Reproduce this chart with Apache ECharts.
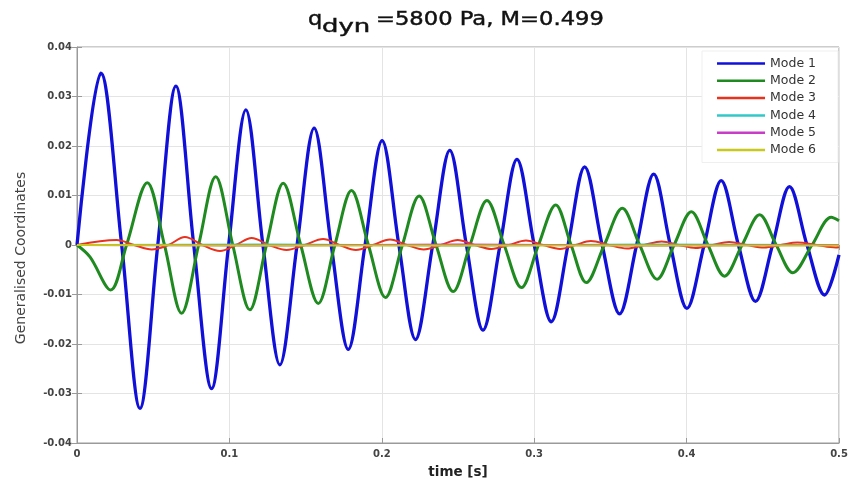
<!DOCTYPE html>
<html>
<head>
<meta charset="utf-8">
<script src="https://cdn.jsdelivr.net/npm/echarts@6/dist/echarts.min.js"></script>
<style>
html,body{margin:0;padding:0;background:#fff;}
#chart{width:851px;height:484px;}
</style>
</head>
<body>
<div id="chart"></div>
<script>
// ---- Data ----
const seriesNames = ['Mode 1', 'Mode 2', 'Mode 3', 'Mode 4', 'Mode 5', 'Mode 6'];
const xTickLabels = ['0', '0.1', '0.2', '0.3', '0.4', '0.5'];
const yTickLabels = ['-0.04', '-0.03', '-0.02', '-0.01', '0', '0.01', '0.02', '0.03', '0.04'];
const titleMain = 'q';
const titleSub = 'dyn';
const titleRest = '=5800 Pa, M=0.499';

const mode1T = [0, 0.0157, 0.0293, 0.0413, 0.053, 0.0649, 0.0766, 0.0883, 0.0995, 0.1108, 0.122, 0.1331, 0.1444, 0.1556, 0.1668, 0.178, 0.189, 0.2002, 0.2112, 0.2221, 0.2334, 0.2446, 0.2555, 0.2664, 0.2776, 0.2887, 0.3, 0.3112, 0.3222, 0.3331, 0.3446, 0.356, 0.3672, 0.3784, 0.3893, 0.4002, 0.4115, 0.4227, 0.434, 0.4452, 0.4564, 0.4675, 0.479, 0.4905, 0.5];
const mode1V = [0, 0.0347, 0, -0.033, 0, 0.0321, 0, -0.029, 0, 0.0273, 0, -0.0242, 0, 0.0236, 0, -0.0211, 0, 0.0211, 0, -0.0191, 0, 0.0191, 0, -0.0172, 0, 0.0173, 0, -0.0155, 0, 0.0158, 0, -0.0139, 0, 0.0143, 0, -0.0128, 0, 0.013, 0, -0.0114, 0, 0.0118, 0, -0.0101, -0.002];

const mode2T = [0, 0.0085, 0.0221, 0.0325, 0.0461, 0.0574, 0.0686, 0.0798, 0.091, 0.1022, 0.1134, 0.1243, 0.1353, 0.1468, 0.1583, 0.1692, 0.1801, 0.1912, 0.2024, 0.2135, 0.2245, 0.2356, 0.2468, 0.2579, 0.269, 0.2803, 0.2916, 0.3028, 0.3141, 0.3242, 0.3342, 0.346, 0.3578, 0.3692, 0.3806, 0.3918, 0.4031, 0.414, 0.4249, 0.4364, 0.4479, 0.4588, 0.4697, 0.4823, 0.4949, 0.5];
const mode2V = [0, -0.0024, -0.0091, 0, 0.0126, 0, -0.0138, 0, 0.0138, 0, -0.0131, 0, 0.0125, 0, -0.0118, 0, 0.011, 0, -0.0106, 0, 0.0099, 0, -0.0094, 0, 0.009, 0, -0.0086, 0, 0.0081, 0, -0.0076, 0, 0.0074, 0, -0.0069, 0, 0.0067, 0, -0.0063, 0, 0.0061, 0, -0.0056, 0, 0.0056, 0.0049];

const mode3T = [0, 0.026, 0.0375, 0.049, 0.06, 0.0708, 0.0823, 0.0938, 0.1042, 0.1146, 0.126, 0.1375, 0.1495, 0.1615, 0.1722, 0.183, 0.1942, 0.2054, 0.2165, 0.2275, 0.2387, 0.2498, 0.2609, 0.272, 0.2833, 0.2946, 0.3058, 0.317, 0.3271, 0.3372, 0.349, 0.3608, 0.3722, 0.3836, 0.3948, 0.406, 0.417, 0.4279, 0.4394, 0.4509, 0.4618, 0.4727, 0.4854, 0.498, 0.5];
const mode3V = [0, 0.001, 0, -0.0009, 0, 0.0016, 0, -0.0012, 0, 0.0014, 0, -0.001, 0, 0.0012, 0, -0.001, 0, 0.0011, 0, -0.0009, 0, 0.001, 0, -0.0008, 0, 0.0009, 0, -0.0008, 0, 0.0008, 0, -0.0007, 0, 0.0007, 0, -0.0006, 0, 0.0006, 0, -0.0005, 0, 0.0005, 0, -0.0005, -0.0004];

const mode4T = [0, 0.125, 0.25, 0.375, 0.5];
const mode4V = [0, 0.0001, -0.0001, 0.0001, 0];

const mode5T = [0, 0.125, 0.25, 0.375, 0.5];
const mode5V = [0, -0.0001, 0.0001, -0.0001, 0];

const mode6T = [0, 0.1, 0.2, 0.3, 0.4, 0.5];
const mode6V = [0, -0.0001, -0.0001, -0.0001, -0.0001, -0.0001];

// ---- Build chart ----
const zip = (t, v) => t.map((x, i) => [x, v[i]]);
const allT = [mode1T, mode2T, mode3T, mode4T, mode5T, mode6T];
const allV = [mode1V, mode2V, mode3V, mode4V, mode5V, mode6V];
const colors = ['#1010d8', '#1f8a1f', '#e8321e', '#30c8c8', '#c83cc8', '#c8c81e'];
const widths = [3.3, 3, 2, 2, 2, 2];

const FONT = 'DejaVu Sans, Liberation Sans, Arial, sans-serif';
const fmtX = v => { const i = Math.round(v / 0.1); return xTickLabels[i] !== undefined ? xTickLabels[i] : ''; };
const fmtY = v => { const i = Math.round(v / 0.01) + 4; return yTickLabels[i] !== undefined ? yTickLabels[i] : ''; };

const titleStyle = (txt, size) => ({
  text: txt, fill: '#111', font: 'normal ' + size + 'px ' + FONT,
  fontFamily: FONT, fontSize: size,
  align: 'left', verticalAlign: 'middle',
  stroke: '#111', lineWidth: 0.45
});

const chart = echarts.init(document.getElementById('chart'), null, {renderer: 'canvas'});
chart.setOption({
  animation: false,
  backgroundColor: '#ffffff',
  color: colors,
  graphic: [
    {type: 'text', x: 308, y: 20, scaleX: 1.15, z: 100, style: titleStyle(titleMain, 19.5)},
    {type: 'text', x: 322, y: 27, scaleX: 1.48, z: 100, style: titleStyle(titleSub, 17.5)},
    {type: 'text', x: 376, y: 20, scaleX: 1.16, z: 100, style: titleStyle(titleRest, 19.5)}
  ],
  grid: {
    left: 77, right: 12, top: 47, bottom: 41,
    show: true, borderColor: '#9a9a9a', borderWidth: 1, backgroundColor: '#fff',
    containLabel: false
  },
  legend: {
    orient: 'vertical',
    right: 13,
    top: 51,
    data: seriesNames,
    icon: 'rect',
    itemWidth: 48,
    itemHeight: 2.5,
    itemGap: 4.3,
    padding: [6, 22, 6, 15],
    backgroundColor: '#ffffff',
    borderColor: '#efefef',
    borderWidth: 1,
    selectedMode: false,
    textStyle: {fontFamily: FONT, fontSize: 12.5, color: '#333', lineHeight: 12}
  },
  xAxis: [{
    type: 'value', min: 0, max: 0.5, interval: 0.1,
    name: 'time [s]', nameLocation: 'middle', nameGap: 22,
    nameTextStyle: {fontFamily: FONT, fontSize: 13.5, color: '#222', fontWeight: 'bold'},
    axisLine: {show: true, onZero: false, lineStyle: {color: '#9a9a9a'}},
    axisTick: {show: true, inside: true, length: 5, lineStyle: {color: '#9a9a9a'}},
    axisLabel: {formatter: fmtX, fontFamily: FONT, fontSize: 10, fontWeight: 'bold', color: '#444', margin: 6},
    splitLine: {show: true, lineStyle: {color: '#e4e4e4', width: 1}}
  }, {
    type: 'value', min: 0, max: 0.5, interval: 0.1, position: 'top',
    axisLine: {show: false},
    axisTick: {show: true, inside: true, length: 5, lineStyle: {color: '#9a9a9a'}},
    axisLabel: {show: false},
    splitLine: {show: false}
  }],
  yAxis: [{
    type: 'value', min: -0.04, max: 0.04, interval: 0.01,
    name: 'Generalised Coordinates', nameLocation: 'middle', nameGap: 49,
    nameTextStyle: {fontFamily: FONT, fontSize: 14, color: '#444', padding: [0, 26, 0, 0]},
    axisLine: {show: true, onZero: false, lineStyle: {color: '#9a9a9a'}},
    axisTick: {show: true, inside: true, length: 5, lineStyle: {color: '#9a9a9a'}},
    axisLabel: {formatter: fmtY, fontFamily: FONT, fontSize: 10, fontWeight: 'bold', color: '#444', margin: 5},
    splitLine: {show: true, lineStyle: {color: '#e4e4e4', width: 1}}
  }, {
    type: 'value', min: -0.04, max: 0.04, interval: 0.01, position: 'right',
    axisLine: {show: false},
    axisTick: {show: true, inside: true, length: 5, lineStyle: {color: '#9a9a9a'}},
    axisLabel: {show: false},
    splitLine: {show: false}
  }],
  series: seriesNames.map((name, i) => ({
    name: name,
    type: 'line',
    xAxisIndex: 0,
    yAxisIndex: 0,
    data: zip(allT[i], allV[i]),
    smooth: 0.34,
    symbol: 'none',
    showSymbol: false,
    lineStyle: {color: colors[i], width: widths[i]},
    itemStyle: {color: colors[i]},
    z: 2 + i
  }))
});
</script>
</body>
</html>
